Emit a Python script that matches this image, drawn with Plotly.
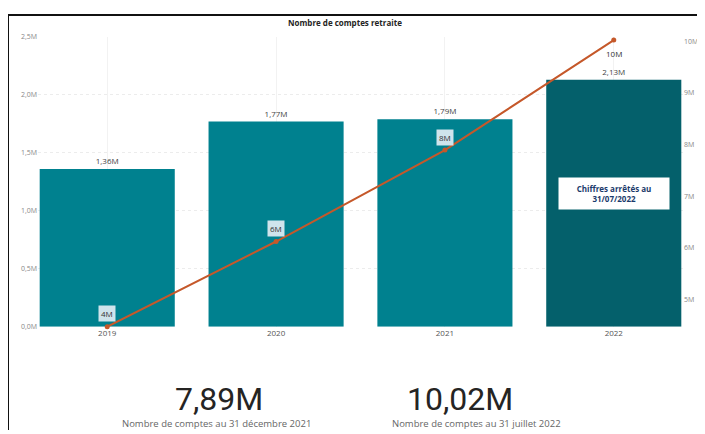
import plotly.graph_objects as go

years = ["2019", "2020", "2021", "2022"]
bar_values = [1.36, 1.77, 1.79, 2.13]          # millions
line_values = [4.47, 6.12, 7.89, 10.02]        # millions
bar_colors = ["#00818F", "#00818F", "#00818F", "#04606B"]
kpi_values = ["7,89M", "10,02M"]
kpi_labels = ["Nombre de comptes au 31 décembre 2021", "Nombre de comptes au 31 juillet 2022"]

OFF = 8  # page body margin (left / top)
W, H = 705 - OFF, 434 - OFF
def px(x): return (x - OFF) / W
def py(y): return 1 - (y - OFF) / H

fig = go.Figure()
fig.add_trace(go.Bar(
    x=years, y=bar_values, marker=dict(color=bar_colors, line=dict(width=0)),
    text=[f"{v:.2f}".replace(".", ",") + "M" for v in bar_values],
    textposition="outside", textfont=dict(size=8, color="#444", family="Open Sans"),
    cliponaxis=False, showlegend=False, hoverinfo="skip",
))
fig.add_trace(go.Scatter(
    x=years, y=line_values, yaxis="y2", mode="lines+markers",
    line=dict(color="#C5582A", width=2), marker=dict(color="#C5582A", size=5),
    showlegend=False, hoverinfo="skip", cliponaxis=False,
))

annotations = []
for i, v in enumerate(line_values):
    last = i == len(line_values) - 1
    a = dict(
        x=i, y=v, xref="x", yref="y2", text=f"{v:.0f}M", showarrow=False,
        xanchor="center", yanchor="middle", yshift=-13 if last else 13,
        font=dict(size=8, color="#333", family="Open Sans"), borderpad=2,
    )
    if not last:
        a["bgcolor"] = "#CFE4EC"
    annotations.append(a)

annotations.append(dict(
    x=len(years) - 1, y=py(192), xref="x", yref="paper", xanchor="center", yanchor="middle",
    text="<b>Chiffres arrêtés au<br>31/07/2022</b>", showarrow=False,
    font=dict(size=8, color="#1A3A6B", family="Open Sans"),
    bgcolor="white", borderpad=5, width=100, align="center",
))
annotations.append(dict(
    x=px(345), y=py(18), xref="paper", yref="paper", xanchor="center", yanchor="middle",
    text="<b>Nombre de comptes retraite</b>",
    showarrow=False, font=dict(size=8, color="#252423", family="Open Sans"),
))
kpi_x = [219, 460]
sub_x = [216, 476]
for kx, sx, kv, kl in zip(kpi_x, sub_x, kpi_values, kpi_labels):
    annotations.append(dict(
        x=px(kx), y=py(402), xref="paper", yref="paper", xanchor="center", yanchor="middle",
        text=kv, showarrow=False,
        font=dict(size=32, color="#252423", family="Roboto"),
    ))
    annotations.append(dict(
        x=px(sx), y=py(427), xref="paper", yref="paper", xanchor="center", yanchor="middle",
        text=kl, showarrow=False, font=dict(size=9.5, color="#666", family="Open Sans"),
    ))

fig.update_layout(
    width=W, height=H, margin=dict(l=0, r=0, t=0, b=0),
    paper_bgcolor="white", plot_bgcolor="white",
    separators=", ", bargap=0.2,
    xaxis=dict(type="category", domain=[px(38), px(683)], range=[-0.41, 3.41], showgrid=True,
               gridcolor="#F2F2F2", tickfont=dict(size=8, color="#555", family="Open Sans"),
               ticks="", showline=False, zeroline=False),
    yaxis=dict(domain=[py(328.5), py(32.5)], range=[0, 2.5], dtick=0.5, tickformat=".1f",
               ticksuffix="M", showgrid=True, gridcolor="#ECECEC", griddash="dot",
               tickfont=dict(size=7, color="#888", family="Open Sans"), zeroline=False),
    yaxis2=dict(overlaying="y", side="right", range=[4.47, 10.08], dtick=1,
                tickformat=".0f", ticksuffix="M", showgrid=False, zeroline=False,
                tickfont=dict(size=7, color="#888", family="Open Sans"), anchor="x"),
    annotations=annotations,
    shapes=[
        dict(type="line", xref="paper", yref="paper", x0=0, x1=1, y0=py(10), y1=py(10),
             line=dict(color="#111", width=2)),
        dict(type="line", xref="paper", yref="paper", x0=0, x1=0, y0=0, y1=py(10),
             line=dict(color="#111", width=2)),
    ],
)
fig.write_html("out.html")
